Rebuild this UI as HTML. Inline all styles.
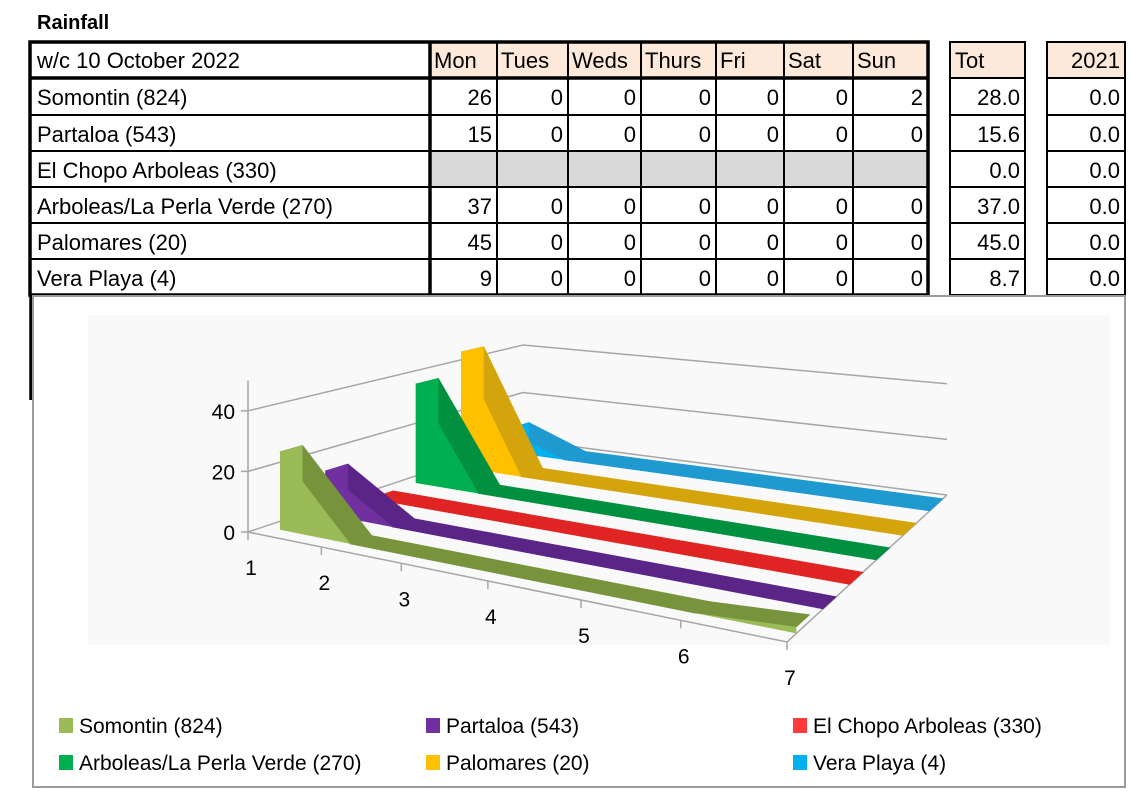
<!DOCTYPE html>
<html><head><meta charset="utf-8">
<style>
html,body{margin:0;padding:0;background:#fff;}
svg{display:block;font-family:"Liberation Sans",sans-serif;}
</style></head>
<body>
<svg id="page" width="1131" height="800" viewBox="0 0 1131 800" xmlns="http://www.w3.org/2000/svg">
<text x="37" y="29" font-size="20" font-weight="bold" fill="#000">Rainfall</text>
<g id="tbl"></g>
<g id="chart"></g>
</svg>
<script>
// ---- data ----
const sites = ["Somontin (824)","Partaloa (543)","El Chopo Arboleas (330)","Arboleas/La Perla Verde (270)","Palomares (20)","Vera Playa (4)"];
const days = ["Mon","Tues","Weds","Thurs","Fri","Sat","Sun"];
const somontin = [26,0,0,0,0,0,2];
const partaloa = [15,0,0,0,0,0,0];
const elChopo = [null,null,null,null,null,null,null];
const arboleas = [37,0,0,0,0,0,0];
const palomares = [45,0,0,0,0,0,0];
const veraPlaya = [9,0,0,0,0,0,0];
const totals = ["28.0","15.6","0.0","37.0","45.0","8.7"];
const prev2021 = ["0.0","0.0","0.0","0.0","0.0","0.0"];
const yTicks = [0,20,40];
const xTickLabels = ["1","2","3","4","5","6","7"];
const series = [somontin,partaloa,elChopo,arboleas,palomares,veraPlaya];
const faceColors = ["#9bbb59","#7030a0","#ff3b3b","#00b050","#ffc000","#00b0f0"];
const topColors = ["#77933c","#5b2487","#e02424","#00903f","#d4a40c","#1e9ad0"];

const NS="http://www.w3.org/2000/svg";
function mk(tag,attrs,parent){const e=document.createElementNS(NS,tag);for(const k in attrs)e.setAttribute(k,attrs[k]);parent.appendChild(e);return e;}

// ---- table ----
const tbl=document.getElementById('tbl');
const rowY=[42,78,115,151,187,223,259,295];
const colX=[30,430,497,568,641,716,784,853,928];
const FS=22;
for(let c=1;c<8;c++){
  const r=mk('rect',{x:colX[c],y:rowY[0],width:colX[c+1]-colX[c],height:rowY[1]-rowY[0],fill:"#fde9d9"},tbl);
  
  
}
for(let c=1;c<8;c++){
  const r=mk('rect',{x:colX[c],y:rowY[3],width:colX[c+1]-colX[c],height:rowY[4]-rowY[3],fill:"#d9d9d9"},tbl);
  
  
}
for(let r=2;r<7;r++){ const l=mk('line',{x1:colX[0],x2:colX[8],y1:rowY[r],y2:rowY[r],stroke:"#000","stroke-width":2},tbl);
  }
for(let c=2;c<8;c++){const l=mk('line',{x1:colX[c],x2:colX[c],y1:rowY[0],y2:rowY[7],stroke:"#000","stroke-width":2},tbl);
  }
const ol=mk('rect',{x:colX[0],y:rowY[0],width:colX[8]-colX[0],height:rowY[7]-rowY[0],fill:"none",stroke:"#000","stroke-width":3.5},tbl);

const hl=mk('line',{x1:colX[0],x2:colX[8],y1:rowY[1],y2:rowY[1],stroke:"#000","stroke-width":3.5},tbl);

const vl=mk('line',{x1:colX[1],x2:colX[1],y1:rowY[0],y2:rowY[7],stroke:"#000","stroke-width":3.5},tbl);

const lb=mk('line',{x1:31,x2:31,y1:295,y2:400,stroke:"#000","stroke-width":3.5},tbl);

let t=mk('text',{x:37,y:rowY[0]+26,"font-size":FS},tbl);t.textContent="w/c  10 October 2022";

for(let c=0;c<7;c++){const tx=mk('text',{x:colX[c+1]+4,y:rowY[0]+26,"font-size":FS},tbl);tx.textContent=days[c];
  }
for(let r=0;r<6;r++){
  const y=rowY[r+1]+27;
  const n=mk('text',{x:37,y:y,"font-size":FS},tbl);n.textContent=sites[r];
  
  for(let c=0;c<7;c++){const v=series[r][c]; if(v===null)continue;
    const tx=mk('text',{x:colX[c+2]-5,y:y,"font-size":FS,"text-anchor":"end"},tbl);tx.textContent=v;
    }
}
function box(x0,x1,head,vals,name,anchorStart){
  const g=mk('g',{},tbl);
  
  mk('rect',{x:x0,y:rowY[0],width:x1-x0,height:rowY[1]-rowY[0],fill:"#fde9d9"},g);
  mk('rect',{x:x0,y:rowY[0],width:x1-x0,height:rowY[7]-rowY[0],fill:"none",stroke:"#000","stroke-width":2},g);
  for(let r=1;r<7;r++) mk('line',{x1:x0,x2:x1,y1:rowY[r],y2:rowY[r],stroke:"#000","stroke-width":2},g);
  const h=mk('text',{x:anchorStart?x0+5:x1-5,y:rowY[0]+26,"font-size":FS,"text-anchor":anchorStart?"start":"end"},g);h.textContent=head;
  for(let r=0;r<6;r++){const tx=mk('text',{x:x1-5,y:rowY[r+1]+27,"font-size":FS,"text-anchor":"end"},g);tx.textContent=vals[r];}
}
box(950,1025,"Tot",totals,"total-column",true);
box(1047,1125,"2021",prev2021,"2021-column",false);
const rb=mk('line',{x1:1125,x2:1125,y1:295,y2:330,stroke:"#000","stroke-width":2},tbl);


// ---- chart ----
const ch=document.getElementById('chart');
const frame=mk('rect',{x:33,y:296,width:1092,height:491,fill:"#fff",stroke:"#9a9a9a","stroke-width":2},ch);

const pbg=mk('rect',{x:88,y:315,width:1022,height:330,fill:"#f9f9f9"},ch);


const FL=[248,532],FR=[787,642],BL=[523,440],BR=[947,495];
const SFL=3.03,SFR=3.3,SBL=2.375,SBR=2.78;
function lerp(a,b,k){return a+(b-a)*k;}
function P(tt,u,v){
  const x=lerp(lerp(FL[0],FR[0],tt),lerp(BL[0],BR[0],tt),u);
  const y=lerp(lerp(FL[1],FR[1],tt),lerp(BL[1],BR[1],tt),u);
  const s=lerp(lerp(SFL,SFR,tt),lerp(SBL,SBR,tt),u);
  return [x,y-s*v];
}
function catT(i){const s=i/6;return 0.03+0.97*s*(0.78+0.22*s);}
function edgeT(i){const s=i/6;return s*(0.78+0.22*s);}
function pts(a){return a.map(p=>p[0].toFixed(1)+","+p[1].toFixed(1)).join(" ");}
const gs={stroke:"#a6a6a6","stroke-width":1.5,fill:"none"};
for(const v of yTicks){
  const a=P(0,0,v),b=P(0,1,v),c=P(1,1,v);
  const g=mk('polyline',Object.assign({points:pts([a,b,c])},gs),ch);
  
}
const fe=mk('polyline',Object.assign({points:pts([P(0,0,0),P(1,0,0),P(1,1,0)])},gs),ch);

const va=mk('line',Object.assign({x1:P(0,0,0)[0],y1:P(0,0,0)[1],x2:P(0,0,50)[0],y2:P(0,0,50)[1]},gs),ch);

for(const v of yTicks){
  const p=P(0,0,v);
  const tk=mk('line',Object.assign({x1:p[0]-7,y1:p[1],x2:p[0],y2:p[1]},gs),ch);
  
  const tx=mk('text',{x:p[0]-13,y:p[1]+8,"font-size":21,"text-anchor":"end"},ch);tx.textContent=v;
  
}
for(let i=0;i<7;i++){
  const p=P(edgeT(i),0,0);
  const tk=mk('line',Object.assign({x1:p[0],y1:p[1],x2:p[0],y2:p[1]+8},gs),ch);
  
  const tx=mk('text',{x:p[0]+3,y:p[1]+43,"font-size":21,"text-anchor":"middle"},ch);tx.textContent=xTickLabels[i];
  
}
for(let d=5;d>=0;d--){
  const vals=series[d].map(v=>v===null?0:v);
  const u0=(d+0.35)/6,u1=(d+0.85)/6;
  const g=mk('g',{},ch);
  
  
  for(let i=0;i<6;i++){
    const a=P(catT(i),u0,vals[i]),b=P(catT(i+1),u0,vals[i+1]),c=P(catT(i+1),u1,vals[i+1]),e=P(catT(i),u1,vals[i]);
    const q=mk('polygon',{points:pts([a,b,c,e]),fill:topColors[d],stroke:topColors[d],"stroke-width":0.6},g);
    
    
  }
  if(vals[0]>0){
    const s=mk('polygon',{points:pts([P(catT(0),u0,0),P(catT(0),u0,vals[0]),P(catT(0),u1,vals[0]),P(catT(0),u1,0)]),fill:faceColors[d]},g);
    
    
  }
  const front=[];
  for(let i=0;i<7;i++)front.push(P(catT(i),u0,vals[i]));
  for(let i=6;i>=0;i--)front.push(P(catT(i),u0,0));
  const f=mk('polygon',{points:pts(front),fill:faceColors[d]},g);
  
  
}
const legX=[59,426,793],legY=[718,755];
for(let k=0;k<6;k++){
  const x=legX[k%3],y=legY[Math.floor(k/3)];
  const g=mk('g',{},ch);
  
  
  mk('rect',{x:x,y:y,width:14,height:15,fill:faceColors[k]},g);
  const tx=mk('text',{x:x+20,y:y+15,"font-size":21},g);tx.textContent=sites[k];
}
</script>
</body></html>
